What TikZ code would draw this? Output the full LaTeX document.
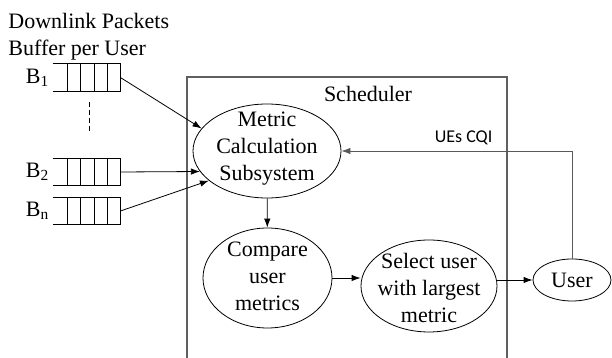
\documentclass[tikz,border=0pt]{standalone}
\usepackage{fontspec}
\setmainfont{Liberation Serif}
\newfontfamily\cqifont{Carlito}
\usetikzlibrary{arrows.meta,shapes.geometric}

\begin{document}
\begin{tikzpicture}[x=0.5pt,y=-0.5pt,
	font=\fontsize{11}{13.5}\selectfont,
	>={Latex[length=4.5pt,width=3.2pt]},
	blob/.style={ellipse,draw,thin,inner sep=0pt},
	txt/.style={align=center,inner sep=0pt},
	buf/.style={minimum width=33.5pt,minimum height=13.5pt,inner sep=0pt},
	arr/.style={->,thin},
	sched/.style={draw=gray!75!black,line width=0.8pt},
	fb/.style={draw=gray!70!black,thin}]
	\useasboundingbox (0,0) rectangle (612,358);
	\node[align=left,anchor=north west,inner sep=0pt] (title) at (8,13) {Downlink Packets\\Buffer per User};
	\foreach \n/\y/\lab in {b1/77.5/{B\textsubscript{1}},b2/172/{B\textsubscript{2}},bn/211/{B\textsubscript{n}}}{
		\node[buf] (\n) at (86.5,\y) {};
		\draw[thin] (\n.north west) -- (\n.north east) -- (\n.south east) -- (\n.south west);
		\foreach \k in {1,...,4}
			\draw[thin] ([xshift=-\k*6.625pt]\n.north east) -- ([xshift=-\k*6.625pt]\n.south east);
		\node[left,inner sep=1.5pt] (\n-l) at (\n.west) {\lab};
	}
	\draw[thin,dash pattern=on 2.5pt off 1.5pt] ([shift={(2.5,11)}]b1.south) -- ([shift={(2.5,-24)}]b2.north);
	\draw[sched] (187,358) -- (187,77) -- (507,77) -- (507,358);
	\node[inner sep=0pt] (sch) at (368,94) {Scheduler};
	\node[blob,minimum width=74pt,minimum height=47pt] (metric) at (267,151) {};
	\node[txt] (metric-t) at (267,149) {Metric\\Calculation\\Subsystem};
	\node[blob,minimum width=64.5pt,minimum height=50pt] (cmp) at (267.5,278) {};
	\node[txt] (cmp-t) at (267.5,276) {Compare\\user\\metrics};
	\node[blob,minimum width=68pt,minimum height=46pt] (sel) at (429,286) {};
	\node[txt] (sel-t) at (429,288) {Select user\\with largest\\metric};
	\node[blob,minimum width=39pt,minimum height=21pt] (usr) at (572,280) {User};
	\draw[arr] (b1.east) -- (metric.161);
	\draw[arr] (b2.east) -- (metric.197);
	\draw[arr] (bn.east) -- (metric.207);
	\draw[arr] (metric) -- (cmp);
	\draw[arr] (cmp.east) -- (cmp.east -| sel.west);
	\draw[arr] (sel.east |- usr.west) -- (usr.west);
	\draw[fb,->] (usr.north) -- (usr.north |- metric.east) -- node[pos=0.47,above,inner sep=3pt,font=\cqifont\fontsize{9}{11}\selectfont] (cqi) {UEs CQI} (metric.east);
\end{tikzpicture}
\end{document}
